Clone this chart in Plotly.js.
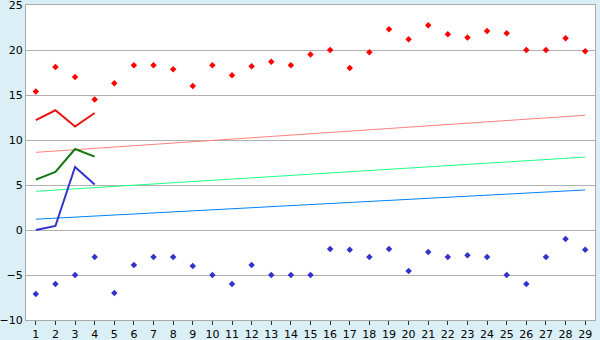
<!DOCTYPE html>
<html><head><meta charset="utf-8">
<script src="https://cdn.plot.ly/plotly-3.0.1.min.js"></script>
<style>html,body{margin:0;padding:0;background:#daf0f6;}</style>
</head><body>
<div id="chart" style="width:600px;height:340px;"></div>
<script>
const days = [1,2,3,4,5,6,7,8,9,10,11,12,13,14,15,16,17,18,19,20,21,22,23,24,25,26,27,28,29];
const maxTemp = [15.4,18.1,17.0,14.5,16.3,18.3,18.3,17.85,16.0,18.3,17.2,18.2,18.7,18.3,19.5,20.0,18.0,19.75,22.3,21.2,22.75,21.75,21.4,22.1,21.85,20.0,20.0,21.3,19.85];
const minTemp = [-7.1,-6.0,-5.0,-3.0,-7.0,-3.9,-3.0,-3.0,-4.0,-5.0,-6.0,-3.9,-5.0,-5.0,-5.0,-2.1,-2.2,-3.0,-2.1,-4.55,-2.45,-3.0,-2.8,-3.0,-5.0,-6.0,-3.0,-1.0,-2.2];
const lineDays = [1,2,3,4];
const maxLine = [12.2,13.3,11.5,13.0];
const meanLine = [5.6,6.45,9.0,8.15];
const minLine = [0.0,0.45,7.0,5.05];
const trendDays = [1,29];
const maxTrend = [8.63,12.75];
const meanTrend = [4.3,8.1];
const minTrend = [1.2,4.45];

const traces = [
  {x: trendDays, y: maxTrend, mode:'lines', line:{color:'#ff8080', width:1}},
  {x: trendDays, y: meanTrend, mode:'lines', line:{color:'#22ff88', width:1}},
  {x: trendDays, y: minTrend, mode:'lines', line:{color:'#0080ff', width:1}},
  {x: lineDays, y: maxLine, mode:'lines', line:{color:'#ee1111', width:2}},
  {x: lineDays, y: meanLine, mode:'lines', line:{color:'#117711', width:2}},
  {x: lineDays, y: minLine, mode:'lines', line:{color:'#3333cc', width:2}},
  {x: days, y: maxTemp, mode:'markers', marker:{symbol:'diamond', size:5, color:'#ff0000'}},
  {x: days, y: minTemp, mode:'markers', marker:{symbol:'diamond', size:5, color:'#3333cc'}}
];
const layout = {
  width:600, height:340,
  margin:{l:26, r:5, t:5, b:20},
  paper_bgcolor:'#daf0f6', plot_bgcolor:'#ffffff',
  showlegend:false,
  font:{family:'DejaVu Sans, Verdana, sans-serif', size:11, color:'#000'},
  xaxis:{range:[0.5,29.5], tickmode:'array', tickvals:days, ticktext:days.map(String),
    ticks:'outside', ticklen:4, tickcolor:'#333', showgrid:false, zeroline:false,
    showline:true, linecolor:'#aaaaaa', mirror:true, fixedrange:true},
  yaxis:{range:[-10,25], dtick:5, tick0:0, showgrid:true, gridcolor:'#b0b0b0', gridwidth:1,
    zeroline:false, showline:true, linecolor:'#aaaaaa', mirror:true, ticks:'', fixedrange:true,
    ticklabeloverflow:'allow'}
};
Plotly.newPlot('chart', traces, layout, {staticPlot:true, displayModeBar:false});
</script>
</body></html>
